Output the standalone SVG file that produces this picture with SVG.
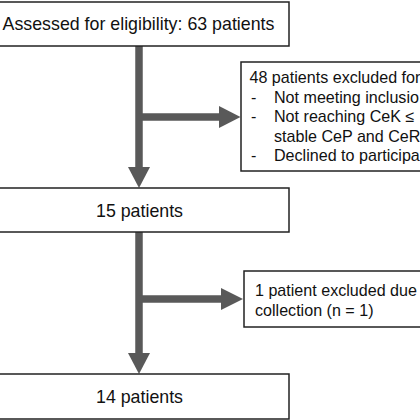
<svg xmlns="http://www.w3.org/2000/svg" width="420" height="420" viewBox="0 0 420 420">
  <style>
    .box { fill: #ffffff; stroke: #222222; stroke-width: 1.5; }
    .main { font-family: "Liberation Sans", Arial, sans-serif; font-size: 17.8px; fill: #111111; text-anchor: middle; }
    .side { font-family: "Liberation Sans", Arial, sans-serif; font-size: 16.1px; fill: #111111; }
    .shaft { stroke: #595959; stroke-width: 7.5; fill: none; }
    .head { fill: #595959; stroke: none; }
  </style>
  <rect x="0" y="0" width="420" height="420" fill="#ffffff"/>

  <g id="connectors">
    <line class="shaft" x1="139" y1="46" x2="139" y2="168"/>
    <polygon class="head" points="128,167 150,167 139,188"/>
    <line class="shaft" x1="139" y1="117" x2="220" y2="117"/>
    <polygon class="head" points="219,106 219,128 240.5,117"/>
    <line class="shaft" x1="139" y1="232" x2="139" y2="354"/>
    <polygon class="head" points="128,353 150,353 139,374"/>
    <line class="shaft" x1="139" y1="299" x2="222" y2="299"/>
    <polygon class="head" points="221,288 221,310 243,299"/>
  </g>

  <g id="assessed">
    <rect class="box" x="-12" y="2" width="301" height="44"/>
    <text class="main" x="138.5" y="30">Assessed for eligibility: 63 patients</text>
  </g>

  <g id="excluded48">
    <rect class="box" x="241" y="62" width="200" height="109"/>
    <text class="side" x="249.5" y="83">48 patients excluded for</text>
    <text class="side" x="251" y="102.5">-</text>
    <text class="side" x="274" y="102.5">Not meeting inclusio</text>
    <text class="side" x="251" y="122">-</text>
    <text class="side" x="274" y="122">Not reaching CeK ≤</text>
    <text class="side" x="274" y="141.5">stable CeP and CeR</text>
    <text class="side" x="251" y="161">-</text>
    <text class="side" x="274" y="161">Declined to participa</text>
  </g>

  <g id="patients15">
    <rect class="box" x="-12" y="188" width="301" height="44"/>
    <text class="main" x="139.5" y="217">15 patients</text>
  </g>

  <g id="excluded1">
    <rect class="box" x="244" y="271" width="200" height="56"/>
    <text class="side" x="255" y="295.5">1 patient excluded due</text>
    <text class="side" x="255" y="315.5">collection (n = 1)</text>
  </g>

  <g id="patients14">
    <rect class="box" x="-12" y="374" width="301" height="45"/>
    <text class="main" x="139.5" y="403">14 patients</text>
  </g>
</svg>
